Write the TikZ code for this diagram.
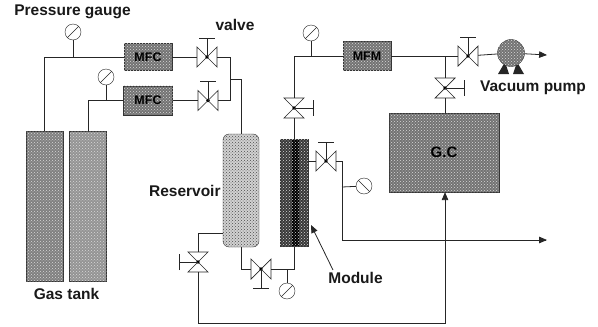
\documentclass[tikz,border=0pt]{standalone}
\usepackage{fontspec}
\setmainfont{Liberation Sans}
\usepackage{tikz}
\usetikzlibrary{arrows, positioning, patterns, shapes}
\tikzset{
    box/.style={rectangle, draw=black!80, fill=black!55, postaction={pattern=crosshatch dots, pattern color=white!85!black}, inner sep=0pt, font=\bfseries\fontsize{12.5}{14}\selectfont},
    tank/.style={box, minimum width=37pt, minimum height=150pt},
    gauge/.style={circle, draw=black!85, fill=white, minimum size=16pt, inner sep=0pt, path picture={\draw (path picture bounding box.south west) -- (path picture bounding box.north east);}},
    gaugeback/.style={circle, draw=black!85, fill=white, minimum size=16pt, inner sep=0pt, path picture={\draw (path picture bounding box.north west) -- (path picture bounding box.south east);}},
    valvebox/.style={rectangle, minimum size=20pt, inner sep=0pt},
    label/.style={font=\bfseries\fontsize{15.5}{17}\selectfont, text=black!90, inner sep=0pt},
    pipe/.style={draw=black!85, line width=0.8pt},
    flow/.style={pipe, -triangle 45}
}
% name, position, rotation of the handle
\newcommand{\valve}[3]{
    \node (#1) [valvebox] at (#2) {};
    \begin{scope}[shift={(#2)}, rotate=#3, pipe]
        \draw[line width=0.7pt] (-10,-10) -- (10,10) -- (10,-10) -- (-10,10) -- cycle;
        \fill (0,0) circle (1.8pt);
        \draw (0,0) -- (0,-19);
        \draw (-8,-19) -- (8,-19);
    \end{scope}
}
\begin{document}
\begin{tikzpicture}[x=1pt, y=-1pt]
    \useasboundingbox (0,0) rectangle (598,327);

    \node (tankone) [tank, fill=black!50] at (44.5,206) {};
    \node (tanktwo) [tank, fill=black!42, right=6pt of tankone] {};
    \node (gastext) [label] at (66.5,294) {Gas tank};

    \node (mfcone) [box, minimum width=48pt, minimum height=27pt] at (148,57) {MFC};
    \node (mfctwo) [box, minimum width=49pt, minimum height=29pt, below=15pt of mfcone] {MFC};
    \node (gaugeone) [gauge] at (73,32) {};
    \node (gaugetwo) [gauge] at (106,77) {};
    \node (gaugetext) [label] at (72.5,12) {Pressure gauge};
    \node (valvetext) [label] at (235,25) {valve};

    \valve{valveone}{207,57}{0}
    \valve{valvetwo}{208,100.5}{0}

    \node (reservoir) [rectangle, draw=black!80, fill=black!18, postaction={pattern=crosshatch dots, pattern color=black!70}, minimum width=36pt, minimum height=113pt, rounded corners=6pt] at (241,190.5) {};
    \node (restext) [label, left=2pt of reservoir] {Reservoir};
    \node (module) [box, fill=black!78, minimum width=28pt, minimum height=107pt, path picture={\fill[black] (-2,-60) rectangle (5,60);}] at (294,193) {};
    \node (modtext) [label] at (355.5,278) {Module};

    \valve{valvethree}{198,262}{90}
    \valve{valvefour}{261,269}{180}
    \valve{valvefive}{294,108}{-90}
    \valve{valvesix}{326,161}{0}
    \valve{valveseven}{468,56}{0}
    \valve{valveeight}{445,88}{-90}

    \node (gaugethree) [gauge] at (287,291) {};
    \node (gaugefour) [gauge] at (311,33) {};
    \node (gaugefive) [gaugeback] at (364,186) {};

    \node (mfm) [box, minimum width=48pt, minimum height=29pt] at (367,56) {MFM};
    \node (gc) [box, minimum width=110pt, minimum height=79pt, font=\bfseries\fontsize{15}{17}\selectfont] at (444,152.5) {G.C};

    \fill[black!85] (498,74) -- (509,74) -- (505,62) -- cycle;
    \fill[black!85] (524,74) -- (513,74) -- (517,62) -- cycle;
    \node (pump) [circle, draw=black!80, fill=black!55, postaction={pattern=crosshatch dots, pattern color=white!85!black}, minimum size=27pt, inner sep=0pt] at (511,53) {};
    \node (pumptext) [label] at (533,88) {Vacuum pump};

    \coordinate (joinone) at (230,79);
    \coordinate (teeone) at (73,57);
    \coordinate (teetwo) at (106,100.5);
    \coordinate (teethree) at (287,269);
    \coordinate (teefour) at (311,56);
    \coordinate (teefive) at (342,187);
    \coordinate (teesix) at (445,56);
    \coordinate (outone) at (547,240);
    \coordinate (outtwo) at (547,55);

    \path[pipe] (tankone.north) |- (mfcone.west);
    \path[pipe] (tanktwo.north) |- (mfctwo.west);
    \path[pipe] (gaugeone) -- (teeone);
    \path[pipe] (gaugetwo) -- (teetwo);
    \path[pipe] (mfcone) -- (valveone);
    \path[pipe] (mfctwo) -- (valvetwo);
    \path[pipe] (valveone) -| (joinone);
    \path[pipe] (valvetwo) -| (joinone);
    \path[pipe] (joinone) -| (reservoir.north);

    \path[pipe] (reservoir.west |- 0,233) -| (valvethree);
    \path[pipe] (reservoir.south) |- (valvefour);
    \path[pipe] (valvefour) -| (module.south);
    \path[pipe] (teethree) -- (gaugethree);
    \path[pipe] (module.north) -- (valvefive);
    \path[pipe] (valvefive) |- (mfm);
    \path[pipe] (gaugefour) -- (teefour);
    \path[pipe] (mfm) -- (valveseven);
    \path[pipe] (valveseven) -- (pump);
    \path[flow] (pump) -- (outtwo);
    \path[pipe] (teesix) -- (valveeight);
    \path[pipe] (valveeight) -- (gc.north -| valveeight);

    \path[pipe] (module.east |- valvesix) -- (valvesix);
    \path[flow] (valvesix) -| (342,240) -- (outone);
    \path[pipe] (teefive) -- (gaugefive);
    \path[flow] (valvethree) |- (445,323) -- (gc.south -| teesix);
    \path[flow] (333,270) -- (311,225);
\end{tikzpicture}
\end{document}
